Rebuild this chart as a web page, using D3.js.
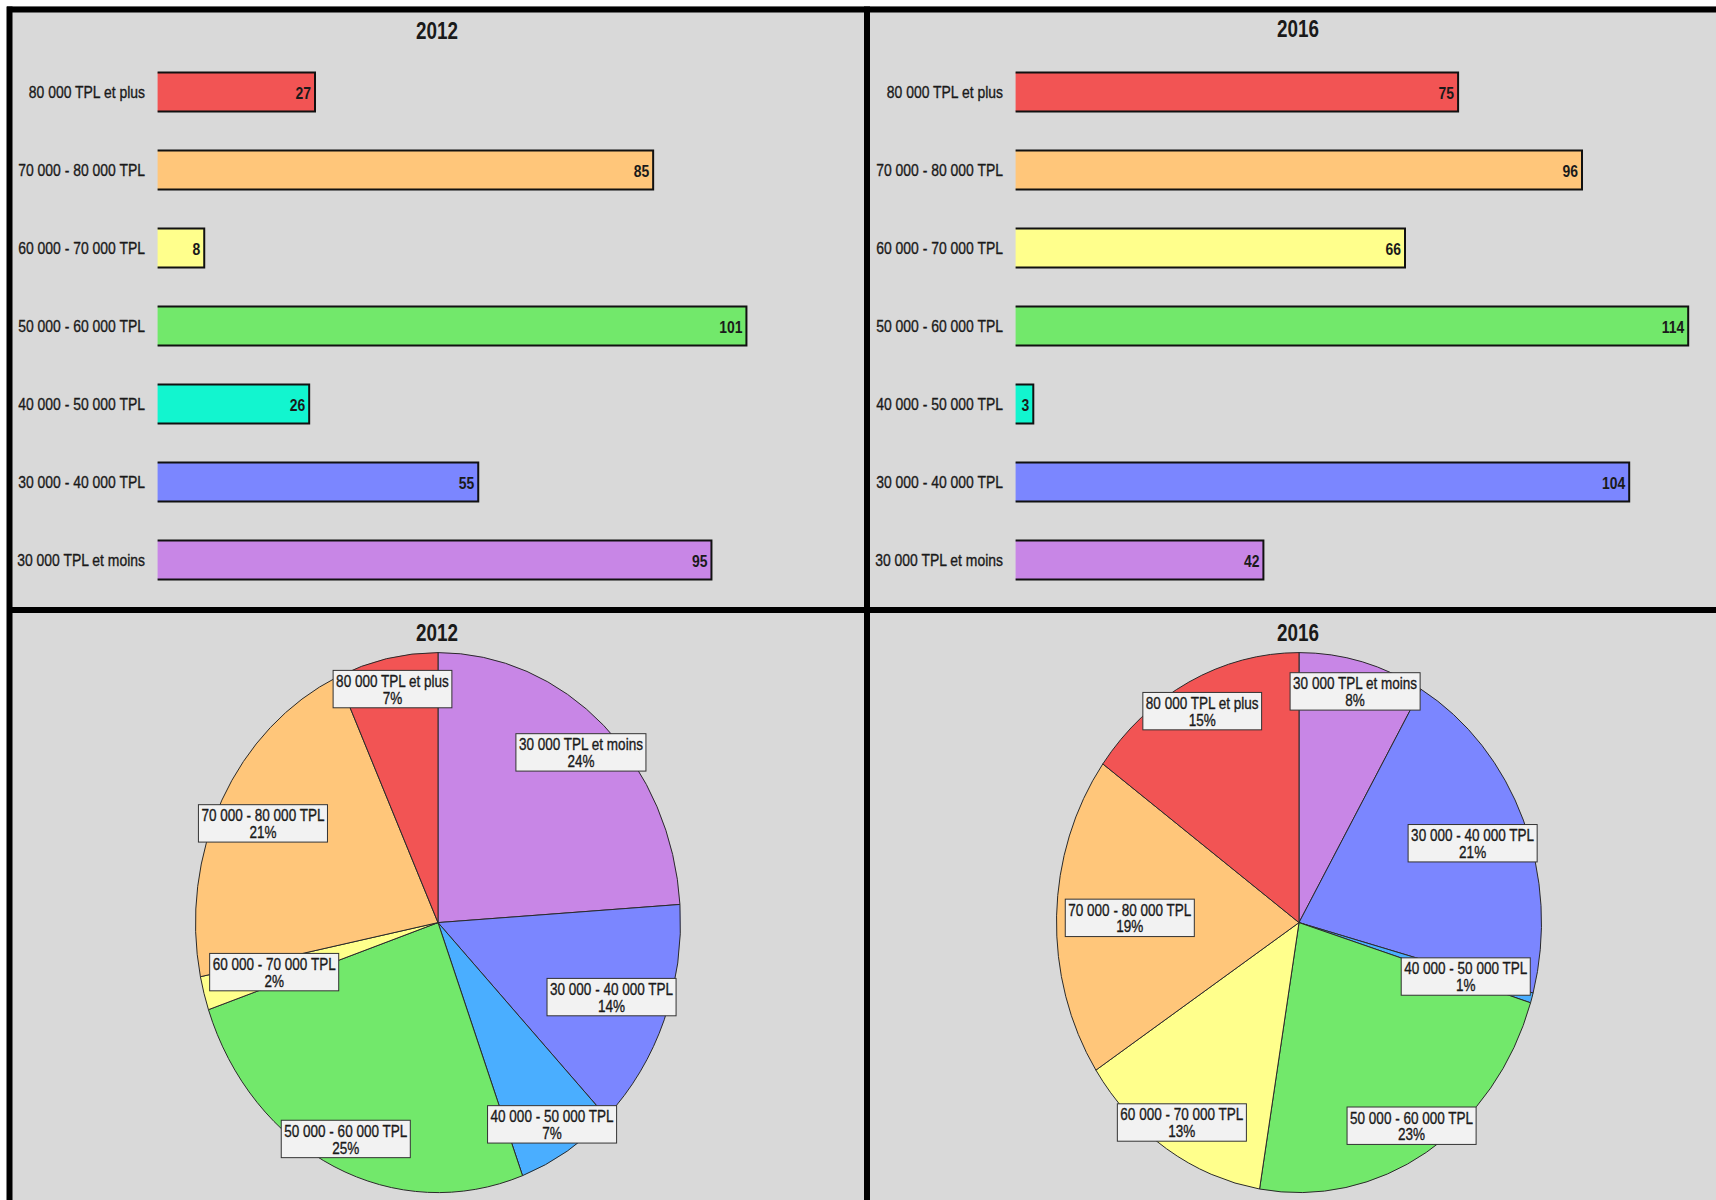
<!DOCTYPE html>
<html>
<head>
<meta charset="utf-8">
<script src="https://cdn.jsdelivr.net/npm/d3@7"></script>
<style>
  body { margin: 0; background: #fff; }
  svg { display: block; }
  text { font-family: "Liberation Sans", Arial, sans-serif; fill: #1a1a1a; }
  text.thin { stroke: #1a1a1a; stroke-width: 0.35px; }
</style>
</head>
<body>
<div id="chart"></div>
<script>
// categories in sheet order (first one is drawn at the bottom of the bar charts, first slice of the pies)
const categories = [
  "30 000 TPL et moins",
  "30 000 - 40 000 TPL",
  "40 000 - 50 000 TPL",
  "50 000 - 60 000 TPL",
  "60 000 - 70 000 TPL",
  "70 000 - 80 000 TPL",
  "80 000 TPL et plus"
];
const years = ["2012", "2016"];
const values2012 = [95, 55, 26, 101, 8, 85, 27];
const values2016 = [42, 104, 3, 114, 66, 96, 75];

const barColors = ["#C886E6", "#7B86FF", "#12F5CF", "#72E86B", "#FFFF8C", "#FFC67A", "#F25454"];
const pieColors = ["#C886E6", "#7B86FF", "#4AAEFF", "#72E86B", "#FFFF8C", "#FFC67A", "#F25454"];

// how far out (share of the radius) each pie label sits, like the sheet's "best fit"
const labelRadius2012 = [0.863, 0.767, 0.883, 0.887, 0.70, 0.81, 0.885];
const labelRadius2016 = [0.887, 0.774, 0.716, 0.884, 0.884, 0.698, 0.879];

const W = 1716, H = 1200;
const NARROW = 0.82; // squeeze Arial metrics to look like Arial Narrow

const svg = d3.select("#chart").append("svg")
  .attr("width", W)
  .attr("height", H);

svg.append("rect").attr("width", W).attr("height", H).attr("fill", "#fff");
svg.append("rect")
  .attr("x", 7).attr("y", 6)
  .attr("width", W - 7).attr("height", H - 6)
  .attr("fill", "#D9D9D9");

// place a narrow text at x, y
function narrowText(parent, x, y, size, anchor, weight, str) {
  return parent.append("text")
    .attr("class", weight === "bold" ? null : "thin")
    .attr("transform", `translate(${x},${y}) scale(${NARROW},1)`)
    .attr("text-anchor", anchor)
    .style("font-size", size + "px")
    .style("font-weight", weight)
    .text(str);
}

// panel setup: left and right columns
const panels = [
  { year: years[0], values: values2012, cx: 437, titleY: 39, labelX: 145, barX0: 157.6, unit: 5.83, pieCx: 438, labelR: labelRadius2012 },
  { year: years[1], values: values2016, cx: 1298, titleY: 37, labelX: 1003, barX0: 1015.6, unit: 5.9, pieCx: 1299, labelR: labelRadius2016 }
];

// bar scale (top to bottom: last category first)
const yScale = d3.scaleBand()
  .domain(categories.slice().reverse())
  .range([53, 599])
  .paddingInner(0.5)
  .paddingOuter(0.25);

panels.forEach((p) => {
  const data = categories.map((c, i) => ({ cat: c, value: p.values[i], color: barColors[i] }));

  const xScale = d3.scaleLinear()
    .domain([0, 120])
    .range([p.barX0, p.barX0 + 120 * p.unit]);

  // title
  narrowText(svg, p.cx, p.titleY, 23, "middle", "bold", p.year);

  const g = svg.append("g");

  // bar fill
  g.selectAll(".bar")
    .data(data)
    .enter()
    .append("rect")
    .attr("x", xScale(0))
    .attr("y", (d) => yScale(d.cat))
    .attr("width", (d) => xScale(d.value) - xScale(0))
    .attr("height", yScale.bandwidth())
    .attr("fill", (d) => d.color);

  // bar outline on top, end and bottom
  g.selectAll(".edge")
    .data(data)
    .enter()
    .append("path")
    .attr("d", (d) => {
      const x0 = xScale(0), x1 = xScale(d.value);
      const y0 = yScale(d.cat), y1 = y0 + yScale.bandwidth();
      return `M${x0},${y0}H${x1}V${y1}H${x0}`;
    })
    .attr("fill", "none")
    .attr("stroke", "#111")
    .attr("stroke-width", 2);

  // category and value labels
  data.forEach((d) => {
    const yc = yScale(d.cat) + yScale.bandwidth() / 2;
    narrowText(g, p.labelX, yc + 6, 17, "end", "normal", d.cat);
    narrowText(g, xScale(d.value) - 4, yc + 7, 17, "end", "bold", d.value);
  });

  // pie
  const rx = 242.5, ry = 270, cy = 922.6;
  const total = d3.sum(p.values);

  narrowText(svg, p.cx, 641, 23, "middle", "bold", p.year);

  const pie = d3.pie().sort(null).value((d) => d.value);
  const arcs = pie(categories.map((c, i) => ({ cat: c, value: p.values[i], color: pieColors[i], r: p.labelR[i] })));
  const arc = d3.arc().innerRadius(0).outerRadius(rx);

  const pg = svg.append("g")
    .attr("transform", `translate(${p.pieCx},${cy}) scale(1,${ry / rx})`);

  pg.selectAll("path")
    .data(arcs)
    .enter()
    .append("path")
    .attr("d", arc)
    .attr("fill", (d) => d.data.color)
    .attr("stroke", "#2a2a2a")
    .attr("stroke-width", 1)
    .attr("vector-effect", "non-scaling-stroke");

  // pie labels with boxes
  arcs.forEach((d) => {
    const a = (d.startAngle + d.endAngle) / 2;
    const lx = p.pieCx + d.data.r * rx * Math.sin(a);
    const ly = cy - d.data.r * ry * Math.cos(a);
    const lg = svg.append("g").attr("transform", `translate(${lx},${ly})`);
    const box = lg.append("rect")
      .attr("fill", "#F2F2F2")
      .attr("stroke", "#333")
      .attr("stroke-width", 1);
    const t1 = narrowText(lg, 0, -2.1, 16.5, "middle", "normal", d.data.cat);
    const t2 = narrowText(lg, 0, 14.6, 16.5, "middle", "normal",
      Math.round((d.data.value / total) * 100) + "%");
    const bw = Math.max(t1.node().getComputedTextLength(), t2.node().getComputedTextLength()) * NARROW + 6;
    box.attr("x", -bw / 2).attr("y", -18.7).attr("width", bw).attr("height", 37.4);
  });
});

// frame lines
const frame = [
  [7, 9.5, W, 9.5],
  [9.5, 6.5, 9.5, H],
  [867, 6.5, 867, H],
  [7, 610, W, 610]
];
svg.selectAll(".frame")
  .data(frame)
  .enter()
  .append("line")
  .attr("x1", (d) => d[0])
  .attr("y1", (d) => d[1])
  .attr("x2", (d) => d[2])
  .attr("y2", (d) => d[3])
  .attr("stroke", "#000")
  .attr("stroke-width", 6);
</script>
</body>
</html>
